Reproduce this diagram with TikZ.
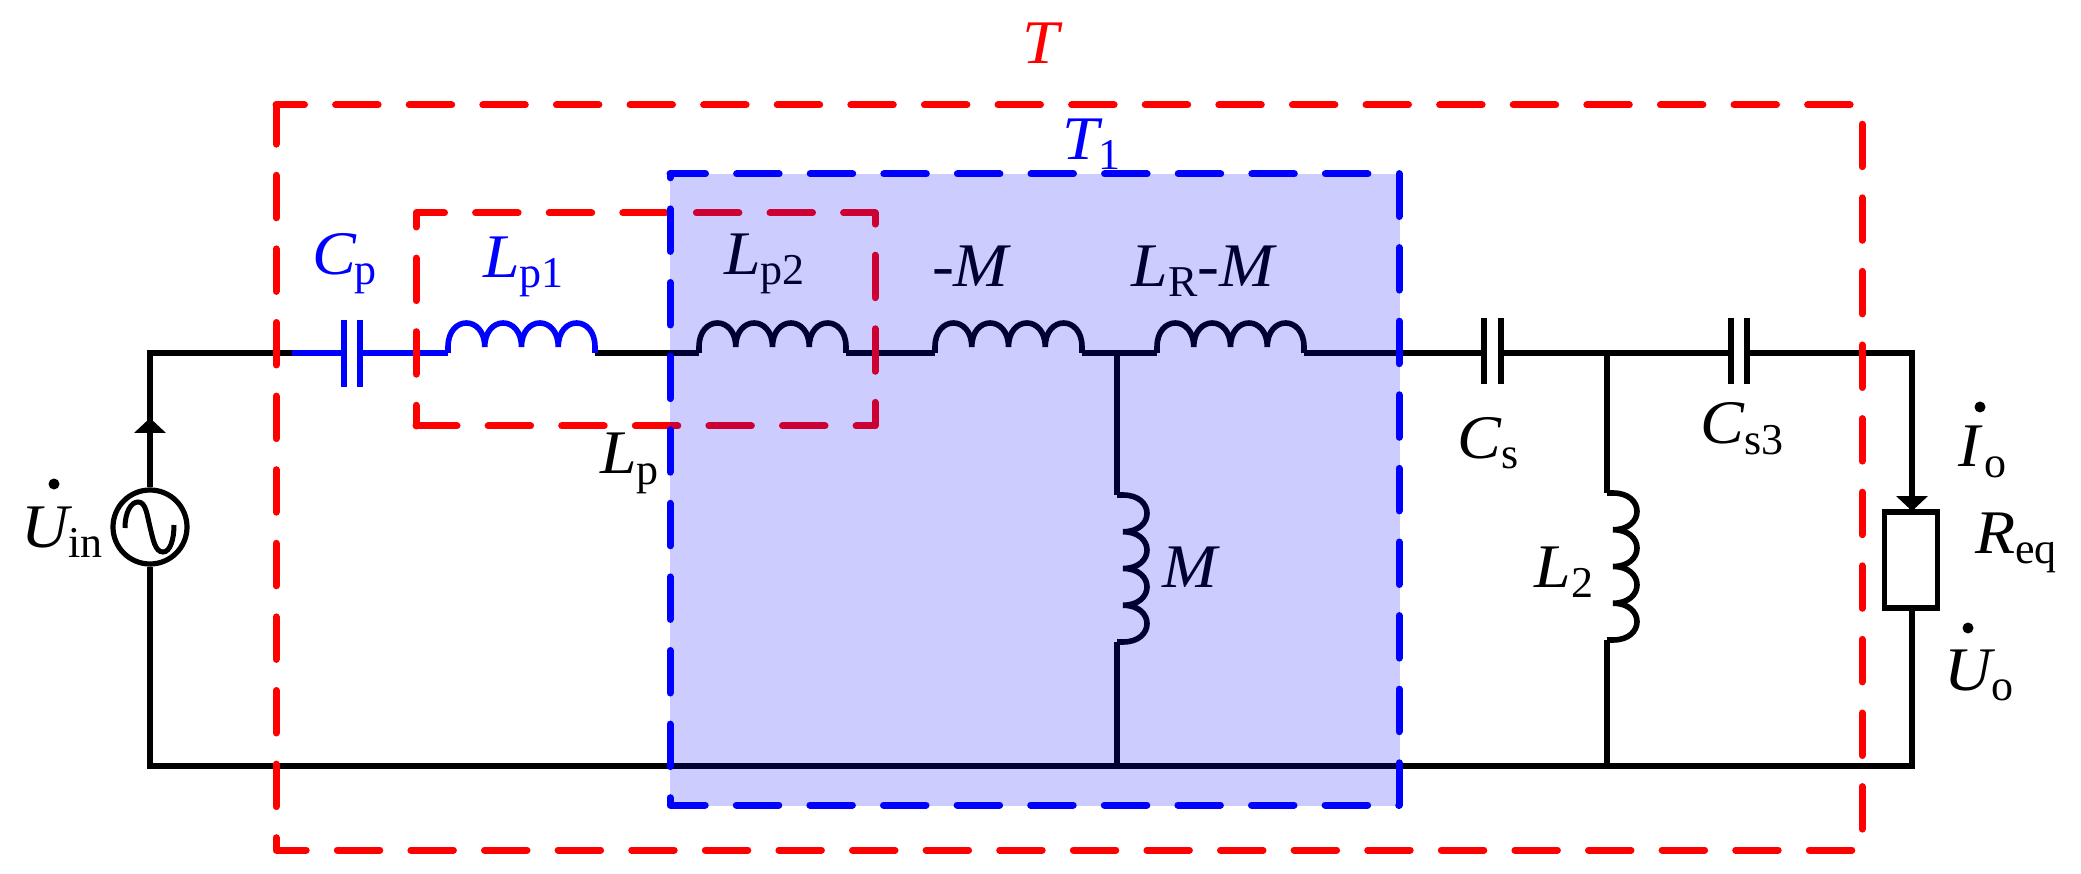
\documentclass[tikz,border=0pt]{standalone}
\usepackage{fontspec}
\usetikzlibrary{calc}
\setmainfont[FakeStretch=1.06]{Liberation Serif}
\newfontfamily\subfam{Liberation Serif}
\definecolor{rd}{RGB}{255,0,0}
\definecolor{bl}{RGB}{0,0,255}
\newcommand{\Sb}[2][0pt]{\kern#1\raisebox{-10pt}{\subfam\fontsize{44}{44}\selectfont\upshape #2}}
\tikzset{
  wire/.style={line width=5.2pt,line join=miter,black},
  bwire/.style={wire,bl},
  frame/.style={line width=7pt,line cap=round,line join=round,dash pattern=on 42.5pt off 31.1pt},
  lbl/.style={anchor=base west,inner sep=0pt,outer sep=0pt,font=\fontsize{62}{62}\selectfont},
  bigdot/.style={circle,fill=black,inner sep=0pt,minimum size=11pt},
  pics/coil/.style={code={
    \draw[wire,line width=5.6pt,#1] (0,0) -- (0,-6)
      .. controls (0,-38) and (36.75,-38) .. (36.75,-6)
      .. controls (36.75,-38) and (73.5,-38) .. (73.5,-6)
      .. controls (73.5,-38) and (110.25,-38) .. (110.25,-6)
      .. controls (110.25,-38) and (147,-38) .. (147,-6) -- (147,0);
  }},
}
\begin{document}
\begin{tikzpicture}[x=1pt,y=-1pt]
\useasboundingbox (0,0) rectangle (2081,874);
% junctions
\coordinate (tl) at (150,353);
\coordinate (bl1) at (150,766);
\coordinate (tr) at (1912,353);
\coordinate (br) at (1912,766);
\coordinate (j1) at (1117,353);
\coordinate (j1b) at (1117,766);
\coordinate (j2) at (1607,353);
\coordinate (j2b) at (1607,766);
\coordinate (blue1) at (292,353);
\coordinate (cp1) at (344,353);
\coordinate (cp2) at (360,353);
\coordinate (lp1a) at (448,353);
\coordinate (lp1b) at (595,353);
\coordinate (lp2a) at (699,353);
\coordinate (lp2b) at (846,353);
\coordinate (ma) at (935,353);
\coordinate (mb) at (1082,353);
\coordinate (lra) at (1157,353);
\coordinate (lrb) at (1304,353);
\coordinate (cs1) at (1484,353);
\coordinate (cs2) at (1501,353);
\coordinate (cs3a) at (1731,353);
\coordinate (cs3b) at (1747,353);
\coordinate (m1) at (1117,495);
\coordinate (m2) at (1117,642);
\coordinate (l21) at (1607,493);
\coordinate (l22) at (1607,640);
% source and load
\node[draw,wire,circle,inner sep=0pt,minimum size=74pt] (src) at (150,527) {};
\node[draw,wire,rectangle,inner sep=0pt,minimum width=53pt,minimum height=96pt] (load) at (1911,560) {};
\draw[line width=5pt] (125,528) .. controls (125,512) and (131,502) .. (138,502)
   .. controls (146,502) and (147,515) .. (150,527)
   .. controls (153,539) and (155,552) .. (163,552)
   .. controls (170,552) and (174,540) .. (174,525);
% wires
\draw[wire] (src.north) -- (tl) -- (blue1);
\draw[bwire] (blue1) -- (cp1);
\draw[bwire] (cp2) -- (lp1a);
\draw[wire] (lp1b) -- (lp2a);
\draw[wire] (lp2b) -- (ma);
\draw[wire] (mb) -- (lra);
\draw[wire] (lrb) -- (cs1);
\draw[wire] (cs2) -- (cs3a);
\draw[wire] (cs3b) -- (tr) -- (load.north -| tr);
\draw[wire] (load.south -| tr) -- (br) -- (bl1) -- (src.south);
\draw[wire] (j1) -- (m1);
\draw[wire] (m2) -- (j1b);
\draw[wire] (j2) -- (l21);
\draw[wire] (l22) -- (j2b);
% capacitors
\draw[bwire] ($(cp1)+(0,-33)$) -- ($(cp1)+(0,34)$);
\draw[bwire] ($(cp2)+(0,-33)$) -- ($(cp2)+(0,34)$);
\draw[wire] ($(cs1)+(0,-35)$) -- ($(cs1)+(0,31)$);
\draw[wire] ($(cs2)+(0,-35)$) -- ($(cs2)+(0,31)$);
\draw[wire] ($(cs3a)+(0,-35)$) -- ($(cs3a)+(0,31)$);
\draw[wire] ($(cs3b)+(0,-35)$) -- ($(cs3b)+(0,31)$);
% coils
\pic at (lp1a) {coil={bl}};
\pic at (lp2a) {coil={black}};
\pic at (ma) {coil={black}};
\pic at (lra) {coil={black}};
\pic[rotate=-90] at (m1) {coil={black}};
\pic[rotate=-90] at (l21) {coil={black}};
% arrowheads
\fill (150,418) -- (166,433) -- (134,433) -- cycle;
\fill (1912,511) -- (1896,496) -- (1928,496) -- cycle;
% labels
\node[lbl,text=bl] (lCp) at (312,275) {\textit{C}\Sb[-2pt]{p}};
\node[lbl,text=bl] (lLp1) at (483,278) {\textit{L}\Sb{p1}};
\node[lbl] (lLp) at (600,474) {\textit{L}\Sb{p}};
\node[lbl] (lLp2) at (724,275) {\textit{L}\Sb{p2}};
\node[lbl] (lmM) at (932,287) {-\textit{M}};
\node[lbl] (lLR) at (1131,287) {\textit{L}\Sb[1pt]{R}-\textit{M}};
\node[lbl,text=bl] (lT1) at (1062,160) {\textit{T}\Sb[-4pt]{1}};
\node[lbl,text=rd] (lT) at (1022,64) {\textit{T}};
\node[lbl] (lM) at (1162,587) {\textit{M}};
\node[lbl] (lCs) at (1457,458) {\textit{C}\Sb{s}};
\node[lbl] (lCs3) at (1700,444) {\textit{C}\Sb{s3}};
\node[lbl] (lL2) at (1534,587) {\textit{L}\Sb[1pt]{2}};
\node[lbl] (lIo) at (1958,467) {\textit{I}\Sb[2pt]{o}};
\node[lbl] (lReq) at (1975,553) {\textit{R}\Sb{eq}};
\node[lbl] (lUo) at (1944,690) {\textit{U}\Sb[-4pt]{o}};
\node[lbl] (lUin) at (21,547) {\textit{U}\Sb[-4pt]{in}};
\node[bigdot] (dUin) at (54,484) {};
\node[bigdot] (dIo) at (1980,407) {};
\node[bigdot] (dUo) at (1968,628) {};
% red frames
\draw[frame,rd,dash phase=1.5pt] (416,426) -- (875,426) -- (875,213) -- (416,213) -- cycle;
\draw[frame,rd,dash phase=14pt] (276,105) -- (1862,105) -- (1862,850) -- (276,850) -- cycle;
% shaded block
\fill[bl,opacity=0.2] (670,174) rectangle (1400,806);
\draw[frame,bl,dash phase=7pt] (670,174) -- (1399,174) -- (1399,805) -- (670,805) -- cycle;
\end{tikzpicture}
\end{document}
